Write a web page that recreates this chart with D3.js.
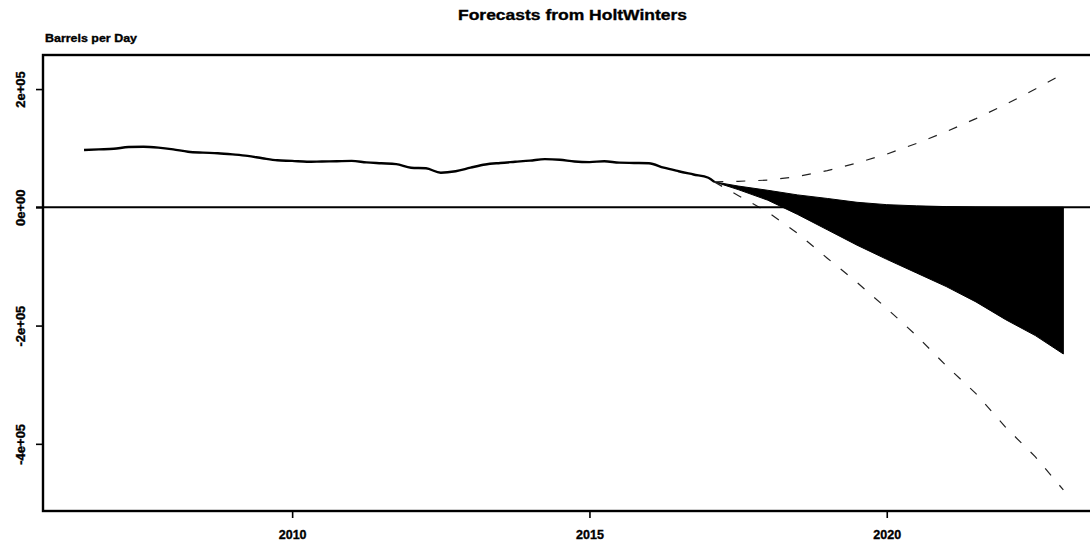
<!DOCTYPE html>
<html><head><meta charset="utf-8">
<script src="https://cdn.jsdelivr.net/npm/d3@7"></script>
<style>
body{margin:0;background:#fff}
svg text{font-family:"Liberation Sans",Arial,sans-serif;font-weight:bold;fill:#000;stroke:#000;stroke-width:0.35px}
</style>
</head><body>
<svg id="chart" width="1090" height="545"></svg>
<script>
// Observed series (barrels per day), sampled quarterly
const histTime = [2006.50,2006.75,2007.00,2007.25,2007.50,2007.75,2008.00,2008.25,2008.50,2008.75,
  2009.00,2009.25,2009.50,2009.75,2010.00,2010.25,2010.50,2010.75,2011.00,2011.25,2011.50,2011.75,
  2012.00,2012.25,2012.50,2012.75,2013.00,2013.25,2013.50,2013.75,2014.00,2014.25,2014.50,2014.75,
  2015.00,2015.25,2015.50,2015.75,2016.00,2016.25,2016.50,2016.75,2017.00,2017.10];
const histValue = [97000,98000,99000,102000,102500,101000,98000,94000,92500,91500,
  89500,87000,83000,79500,78500,77000,77500,78000,78500,76000,74500,73000,
  67000,66000,58500,61000,67000,72500,75000,77000,79000,81500,80500,77500,
  76500,78000,75500,75000,74500,67000,61000,55500,50000,43000];

// HoltWinters forecast bands
const fcTime = [2017.10,2017.50,2018.00,2018.50,2019.00,2019.50,2020.00,2020.50,2021.00,2021.50,2022.00,2022.50,2022.97];
const hi80 = [43000,36000,28800,21000,15000,8500,4500,2500,1200,500,0,0,0];
const lo80 = [43000,30000,12000,-12000,-38000,-64000,-88000,-111000,-134000,-160000,-190000,-217000,-248000];
const hi95 = [43000,44000,46000,52000,62000,75000,90000,108000,128000,150000,174000,200000,226000];
const lo95 = [43000,20000,-8000,-44000,-86000,-127000,-171000,-217000,-268000,-315000,-372000,-422000,-478000];

const xTicks = [2010, 2015, 2020];
const yTicks = [-400000, -200000, 0, 200000];
const yTickLabels = ["-4e+05", "-2e+05", "0e+00", "2e+05"];

const titleText = "Forecasts from HoltWinters";
const yUnitText = "Barrels per Day";

const svg = d3.select("#chart");
const L = 43, T = 55, R = 1102, B = 511;

const x = d3.scaleLinear().domain([2005.81, 2023.62]).range([L, R]);
const y = d3.scaleLinear().domain([-513600, 257600]).range([B, T]);

svg.append("clipPath").attr("id", "plotclip")
  .append("rect").attr("x", L).attr("y", T).attr("width", R - L).attr("height", B - T);

const plot = svg.append("g").attr("clip-path", "url(#plotclip)");

// 80% interval, filled
const band = fcTime.map((t, i) => ({t, lo: lo80[i], hi: hi80[i]}));
plot.append("path")
  .datum(band)
  .attr("d", d3.area().x(d => x(d.t)).y0(d => y(d.lo)).y1(d => y(d.hi)))
  .attr("fill", "#000").attr("stroke", "#000").attr("stroke-width", 1);

// 95% interval limits, dashed
const line = d3.line().x(d => x(d[0])).y(d => y(d[1]));
[hi95, lo95].forEach(arr => {
  plot.append("path")
    .datum(fcTime.map((t, i) => [t, arr[i]]))
    .attr("d", line)
    .attr("fill", "none").attr("stroke", "#222").attr("stroke-width", 1.2)
    .attr("stroke-dasharray", "9,13");
});

// observed series
plot.append("path")
  .datum(histTime.map((t, i) => [t, histValue[i]]))
  .attr("d", line.curve(d3.curveMonotoneX))
  .attr("fill", "none").attr("stroke", "#000").attr("stroke-width", 2.4);

// zero reference line
svg.append("line")
  .attr("x1", 36).attr("x2", 1090).attr("y1", y(0)).attr("y2", y(0))
  .attr("stroke", "#000").attr("stroke-width", 2);

// plot frame
svg.append("rect")
  .attr("x", L).attr("y", T).attr("width", R - L).attr("height", B - T)
  .attr("fill", "none").attr("stroke", "#000").attr("stroke-width", 2.4);

// axes
const xAxis = svg.append("g").attr("transform", `translate(0,${B})`)
  .call(d3.axisBottom(x).tickValues(xTicks).tickSize(7).tickPadding(12).tickFormat(d3.format("d")));
xAxis.select(".domain").remove();
xAxis.selectAll("line").attr("stroke", "#000").attr("stroke-width", 1.6);
xAxis.selectAll("text").attr("font-size", 12.5);

const yAxis = svg.append("g").attr("transform", `translate(${L},0)`)
  .call(d3.axisLeft(y).tickValues(yTicks).tickSize(7)
    .tickFormat((d, i) => yTickLabels[i]));
yAxis.select(".domain").remove();
yAxis.selectAll("line").attr("stroke", "#000").attr("stroke-width", 1.6);
yAxis.selectAll("text")
  .attr("font-size", 13)
  .attr("text-anchor", "middle")
  .attr("x", null)
  .attr("transform", "translate(-23,0) rotate(-90)")
  .attr("dy", "0.35em");

// titles
svg.append("text").attr("x", (L + R) / 2).attr("y", 20)
  .attr("text-anchor", "middle").attr("font-size", 15)
  .attr("textLength", 229).attr("lengthAdjust", "spacingAndGlyphs").text(titleText);
svg.append("text").attr("x", 45).attr("y", 42)
  .attr("font-size", 11)
  .attr("textLength", 92).attr("lengthAdjust", "spacingAndGlyphs").text(yUnitText);
</script>
</body></html>
